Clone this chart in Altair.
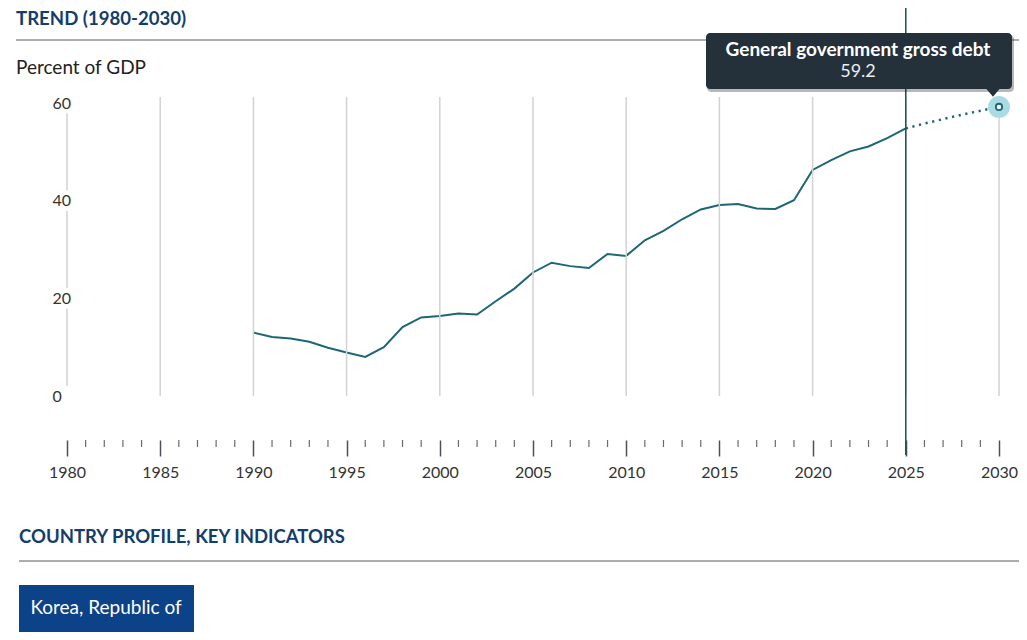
import altair as alt
import pandas as pd

# ---------------- data ----------------
years = list(range(1990, 2031))
debt = [13.0, 12.1, 11.8, 11.1, 9.9, 8.9, 8.0, 10.0, 14.1, 16.1,
        16.4, 16.9, 16.7, 19.4, 22.0, 25.3, 27.3, 26.6, 26.2, 29.1,
        28.7, 31.9, 33.8, 36.2, 38.2, 39.1, 39.3, 38.4, 38.3, 40.1,
        46.3, 48.3, 50.1, 51.1, 52.8, 54.8, 55.8, 56.7, 57.6, 58.4,
        59.2]
last_actual = 2025
x_major = list(range(1980, 2031, 5))
x_minor = [y for y in range(1980, 2031) if y % 5]
y_ticks = [0, 20, 40, 60]

title_txt = "TREND (1980-2030)"
unit_txt = "Percent of GDP"
series_name = "General government gross debt"
section_txt = "COUNTRY PROFILE, KEY INDICATORS"
country_txt = "Korea, Republic of"

# ---------------- style ----------------
FONT = "Lato"
NAVY = "#143d6b"
TEAL = "#1d6775"
W, H = 932, 343
YMIN, YMAX = -9.0, 61.23

df = pd.DataFrame({"year": years, "debt": debt})
last_df = df[df["year"] == years[-1]]
one = pd.DataFrame({"k": [0]})

xs = alt.Scale(domain=[1980, 2030], nice=False, zero=False)
ys = alt.Scale(domain=[YMIN, YMAX], nice=False, zero=False)


def label(text, x, y, size, weight="normal", color="#222", align="left"):
    return alt.Chart(one).mark_text(
        align=align, baseline="middle", font=FONT, fontSize=size,
        fontWeight=weight, color=color
    ).encode(x=alt.value(x), y=alt.value(y), text=alt.value(text))


def hrule(x1, x2, y):
    return alt.Chart(one).mark_rule(color="#5a5a5a", strokeWidth=1).encode(
        x=alt.value(x1), x2=alt.value(x2), y=alt.value(y))


x_axis = alt.Axis(values=x_major, format="d", title=None, grid=False, domain=False,
                  ticks=True, tickSize=16, tickColor="#4d4f5c", tickWidth=1.5,
                  labelPadding=8, labelFont=FONT, labelFontSize=16, labelColor="#333",
                  labelFlush=False, labelOverlap=False)
y_axis = alt.Axis(values=y_ticks, title=None, grid=False, domain=False, ticks=False,
                  labelAlign="left", labelPadding=15, labelFont=FONT, labelFontSize=16,
                  labelColor="#333", labelFlush=False, labelOverlap=False)

# line layer first so its explicit axes drive the merged axes
line = alt.Chart(df).transform_filter(alt.datum.year <= last_actual).mark_line(
    color=TEAL, strokeWidth=2
).encode(
    x=alt.X("year:Q", scale=xs, axis=x_axis),
    y=alt.Y("debt:Q", scale=ys, axis=y_axis),
)

title = label(title_txt, -51, -78, 18.6, "bold", NAVY)
title_rule = hrule(-51, W + 20, -57)
unit = label(unit_txt, -51, -29, 19, "normal", "#222")

grid = alt.Chart(pd.DataFrame({"year": x_major[1:]})).mark_rule(
    color="#d2d2d2", strokeWidth=1.5
).encode(
    x=alt.X("year:Q", scale=xs, title=None),
    y=alt.Y(datum=YMAX, scale=ys, title=None),
    y2=alt.Y2(datum=0),
)

seg = pd.DataFrame({
    "year": [x_major[0]] * (len(y_ticks) - 1),
    "lo": [t + 2.1 for t in y_ticks[:-1]],
    "hi": [t - 2.1 for t in y_ticks[1:]],
})
grid1980 = alt.Chart(seg).mark_rule(color="#d2d2d2", strokeWidth=1.5).encode(
    x=alt.X("year:Q", scale=xs, title=None),
    y=alt.Y("lo:Q", scale=ys, title=None),
    y2="hi:Q",
)

minor = alt.Chart(pd.DataFrame({"year": x_minor})).mark_rule(
    color="#666a72", strokeWidth=1.2
).encode(
    x=alt.X("year:Q", scale=xs, title=None),
    y=alt.value(H), y2=alt.value(H + 7),
)

proj = alt.Chart(df).transform_filter(alt.datum.year >= last_actual).mark_line(
    color=TEAL, strokeWidth=2.5, strokeDash=[2.2, 4.6]
).encode(
    x=alt.X("year:Q", scale=xs, title=None),
    y=alt.Y("debt:Q", scale=ys, title=None),
)

vline = alt.Chart(one).mark_rule(color="#1a4f5a", strokeWidth=1.5).encode(
    x=alt.X(datum=last_actual, scale=xs, title=None),
    y=alt.value(-97), y2=alt.value(H + 15),
)

enc_pt = dict(
    x=alt.X("year:Q", scale=xs, title=None),
    y=alt.Y("debt:Q", scale=ys, title=None),
)

halo = alt.Chart(last_df).mark_circle(color="#a9dbe5", opacity=1, size=480).encode(**enc_pt)
dot = alt.Chart(last_df).mark_point(
    filled=True, fill="white", stroke=TEAL, strokeWidth=1.8, size=40, opacity=1
).encode(**enc_pt)

TIP = "#24303a"
shadow = alt.Chart(last_df).mark_rect(
    color="#000000", opacity=0.28, cornerRadius=4,
    xOffset=-292, x2Offset=15, yOffset=-72, y2Offset=-15
).encode(x2="year:Q", y2="debt:Q", **enc_pt)
box = alt.Chart(last_df).mark_rect(
    color=TIP, cornerRadius=4,
    xOffset=-293, x2Offset=13, yOffset=-74, y2Offset=-18
).encode(x2="year:Q", y2="debt:Q", **enc_pt)
pointer = alt.Chart(last_df).mark_point(
    shape="M-1,-0.6L1,-0.6L0,0.6Z", filled=True, color=TIP, opacity=1,
    size=169, xOffset=-6, yOffset=-14
).encode(**enc_pt)
tip_name = alt.Chart(last_df).mark_text(
    font=FONT, fontSize=19, fontWeight="bold", color="white",
    align="center", baseline="middle", dx=-141, dy=-57
).encode(text=alt.value(series_name), **enc_pt)
tip_val = alt.Chart(last_df).mark_text(
    font=FONT, fontSize=18, color="#eeeeee",
    align="center", baseline="middle", dx=-141, dy=-35
).encode(text=alt.Text("debt:Q", format=".1f"), **enc_pt)

section = label(section_txt, -48, 440, 18.5, "bold", NAVY)
section_rule = hrule(-48, W + 20, 464)
button = alt.Chart(one).mark_rect(color="#0c4287").encode(
    x=alt.value(-48), x2=alt.value(127), y=alt.value(488), y2=alt.value(540))
button_txt = label(country_txt, 39, 511, 19, "normal", "white", "center")

chart = alt.layer(
    line, title_rule, title, unit, grid, grid1980, minor, proj, vline,
    halo, dot, shadow, box, pointer, tip_name, tip_val,
    section, section_rule, button, button_txt,
).properties(
    width=W, height=H,
    padding={"left": 59, "top": 89, "right": 20, "bottom": 192},
    autosize=alt.AutoSizeParams(type="none"),
).configure_view(stroke=None)

chart.save("out.html", embed_options={"renderer": "svg", "actions": False})
